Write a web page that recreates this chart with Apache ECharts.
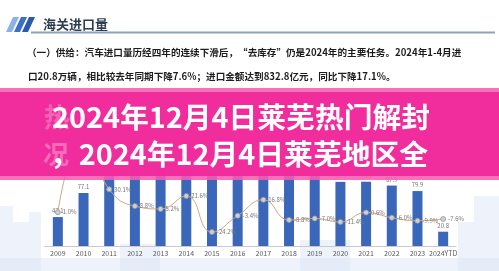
<!DOCTYPE html>
<html>
<head>
<meta charset="utf-8">
<script src="https://cdn.jsdelivr.net/npm/echarts@6/dist/echarts.min.js"></script>
<style>
  html, body { margin: 0; padding: 0; background: #ffffff; }
  #chart { width: 499px; height: 271px; }
</style>
</head>
<body>
<div id="chart"></div>
<script>
// 2009-2024 car imports (10k units) and year-over-year change (%)
const years = ['2009', '2010', '2011', '2012', '2013', '2014', '2015', '2016',
               '2017', '2018', '2019', '2020', '2021', '2022', '2023', '2024YTD'];
const importVolume = [42.1, 77.1, 103.9, 113.2, 119.5, 142.6, 110.0, 107.4,
                      124.7, 113.5, 105.3, 93.3, 93.5, 87.9, 79.9, 20.8];
const growthRate = [1.0, 93.1, 30.1, 8.8, 5.2, 21.6, -24.2, -3.4,
                    16.8, -8.8, -7.0, -11.4, 0.6, -6.0, -9.9, -7.6];

const headerTitle = '海关进口量';
const bodyLines = [
  '（一）供给：汽车进口量历经四年的连续下滑后，“去库存”仍是2024年的主要任务。2024年1-4月进',
  '口20.8万辆，相比较去年同期下降7.6%；进口金额达到832.8亿元，同比下降17.1%。'
];
const chartTitle = '2009年-2024年1-4月汽车进口量';
const bannerLines = [
  '2024年12月4日莱芜热门解封',
  '，2024年12月4日莱芜地区全'
];

const CJK = '"Noto Sans CJK SC", "Noto Sans", sans-serif';
const chart = echarts.init(document.getElementById('chart'), null, { renderer: 'canvas' });

// light skyline decoration along the bottom
const skyline = [
  [0, 206, 13, 65], [13, 222, 16, 49], [29, 212, 12, 59],
  [458, 222, 16, 49], [474, 196, 25, 75], [120, 244, 40, 27], [300, 240, 50, 31],
  [0, 258, 499, 13]
].map(([x, y, w, h]) => ({
  type: 'rect', z: -10, silent: true,
  shape: { x, y, width: w, height: h },
  style: { fill: 'rgba(212,226,244,0.4)' }
}));

const slashColors = ['#8db3e6', '#3d70c4', '#2b59ab'];
const slashes = slashColors.map((c, i) => ({
  type: 'polygon', silent: true,
  shape: { points: [[13 + i * 8, 17], [19 + i * 8, 17], [12 + i * 8, 32], [6 + i * 8, 32]] },
  style: { fill: c }
}));

chart.setOption({
  backgroundColor: '#ffffff',
  animation: false,
  title: {
    text: chartTitle,
    left: 'center',
    top: 99,
    textStyle: { fontSize: 8, color: '#666', fontWeight: 'normal', fontFamily: CJK }
  },
  grid: { left: 45, right: 43, top: 136, bottom: 25 },
  xAxis: {
    type: 'category',
    data: years,
    boundaryGap: true,
    axisLine: { lineStyle: { color: '#c9c9c9', width: 1 } },
    axisTick: { show: false },
    axisLabel: { fontSize: 7, color: '#5a5a5a', margin: 4, fontFamily: CJK, interval: 0 }
  },
  yAxis: [
    { type: 'value', min: 0, max: 160, show: false },
    { type: 'value', min: -42, max: 98, show: false }
  ],
  series: [
    {
      type: 'bar',
      data: importVolume,
      yAxisIndex: 0,
      barWidth: 10,
      itemStyle: { color: '#3b67ba' },
      label: {
        show: true, position: 'top', distance: 3,
        fontSize: 6, color: '#777', fontFamily: CJK,
        formatter: p => p.value.toFixed(1)
      },
      z: 2
    },
    {
      type: 'line',
      data: growthRate,
      yAxisIndex: 1,
      smooth: true,
      lineStyle: { color: '#d6a47e', width: 1 },
      symbol: 'circle',
      symbolSize: 5,
      itemStyle: { color: '#cfcfcf', borderColor: '#999', borderWidth: 0.8 },
      label: {
        show: true, position: 'right', distance: 2,
        fontSize: 6, color: '#777', fontFamily: CJK,
        formatter: p => p.value.toFixed(1) + '%'
      },
      z: 3
    }
  ],
  graphic: [
    ...skyline,
    ...slashes,
    {
      type: 'text', silent: true,
      style: { x: 43, y: 24, text: headerTitle, fill: '#2f3d52',
               font: 'bold 13px ' + CJK, verticalAlign: 'middle' }
    },
    {
      type: 'line', silent: true,
      shape: { x1: 31, y1: 32.5, x2: 495, y2: 32.5 },
      style: { stroke: '#8ea3ba', lineWidth: 2 }
    },
    {
      type: 'text', silent: true,
      style: { x: 27, y: 52.5, text: bodyLines[0], fill: '#1d1d1d',
               font: 'bold 9.6px ' + CJK, verticalAlign: 'middle' }
    },
    {
      type: 'text', silent: true,
      style: { x: 28, y: 76, text: bodyLines[1], fill: '#1d1d1d',
               font: 'bold 9.6px ' + CJK, verticalAlign: 'middle' }
    },
    // headline banner
    {
      type: 'rect', z: 100, silent: true,
      shape: { x: 0, y: 88, width: 499, height: 92 },
      style: { fill: 'rgba(246,92,176,0.88)' }
    },
    {
      type: 'rect', z: 101, silent: true,
      shape: { x: 0, y: 92, width: 499, height: 84 },
      style: { fill: 'rgba(240,40,155,0.93)' }
    },
    {
      type: 'text', z: 102, silent: true,
      style: { x: 44, y: 117, text: '热', fill: 'rgba(255,200,230,0.35)',
               font: 'bold 26px ' + CJK, verticalAlign: 'middle' }
    },
    {
      type: 'text', z: 102, silent: true,
      style: { x: 43, y: 154, text: '况', fill: 'rgba(255,200,230,0.4)',
               font: 'bold 26px ' + CJK, verticalAlign: 'middle' }
    },
    {
      type: 'text', z: 103, silent: true,
      style: { x: 52, y: 117, text: bannerLines[0], fill: '#ffffff',
               font: 'bold 28.8px ' + CJK, verticalAlign: 'middle' }
    },
    {
      type: 'text', z: 103, silent: true,
      style: { x: 50, y: 154, text: bannerLines[1], fill: '#ffffff',
               font: 'bold 28.8px ' + CJK, verticalAlign: 'middle' }
    }
  ]
});
</script>
</body>
</html>
